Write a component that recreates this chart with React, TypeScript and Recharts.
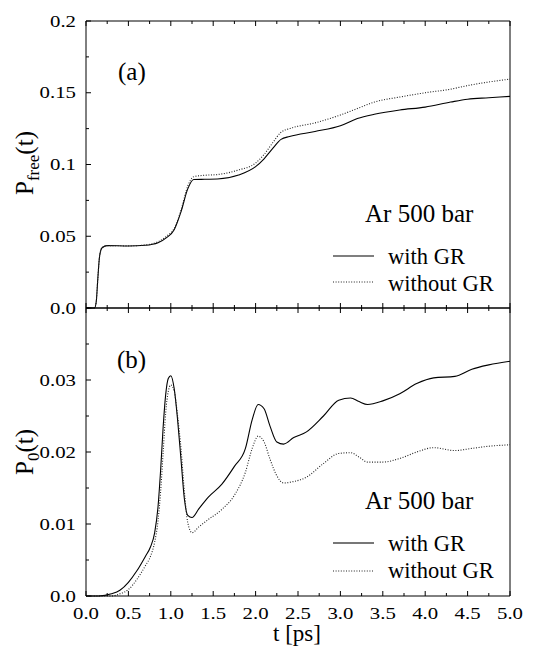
import React from 'react';
import { LineChart, Line, XAxis, YAxis } from 'recharts';

const FONT = 'Liberation Serif';

// (a) P_free(t)
const tFree = [0, 0.1, 0.12, 0.14, 0.16, 0.19, 0.25, 0.5, 0.7, 0.85, 0.95, 1.04, 1.12, 1.2, 1.27, 1.4, 1.55, 1.8, 2.0, 2.1, 2.2, 2.3, 2.4, 2.7, 3.0, 3.2, 3.4, 3.7, 4.0, 4.3, 4.5, 4.75, 5.0];
const freeWithGR = [0, 0, 0.004, 0.021, 0.036, 0.042, 0.0435, 0.0432, 0.0437, 0.0455, 0.049, 0.0545, 0.067, 0.083, 0.0895, 0.0897, 0.0899, 0.0927, 0.0985, 0.104, 0.111, 0.1175, 0.1195, 0.123, 0.127, 0.132, 0.135, 0.138, 0.14, 0.1435, 0.1455, 0.1465, 0.1475];
const freeWithoutGR = [0, 0, 0.004, 0.021, 0.036, 0.042, 0.0435, 0.0433, 0.0439, 0.0462, 0.05, 0.0555, 0.068, 0.085, 0.0915, 0.0925, 0.093, 0.0962, 0.101, 0.107, 0.115, 0.1225, 0.125, 0.129, 0.1345, 0.139, 0.1435, 0.147, 0.15, 0.1525, 0.155, 0.1575, 0.1595];

// (b) P_0(t)
const tZero = [0, 0.15, 0.3, 0.4, 0.5, 0.6, 0.7, 0.76, 0.81, 0.85, 0.88, 0.91, 0.94, 0.97, 1.0, 1.04, 1.08, 1.12, 1.16, 1.2, 1.25, 1.33, 1.44, 1.6, 1.75, 1.88, 1.96, 2.03, 2.1, 2.17, 2.25, 2.33, 2.45, 2.6, 2.8, 2.98, 3.12, 3.22, 3.32, 3.5, 3.7, 3.9, 4.1, 4.35, 4.55, 4.75, 5.0];
const zeroWithGR = [0, 0, 0.0003, 0.0008, 0.0019, 0.0035, 0.0055, 0.0068, 0.0088, 0.0125, 0.0175, 0.0235, 0.028, 0.0302, 0.0306, 0.0288, 0.0245, 0.019, 0.0135, 0.0112, 0.0109, 0.0121, 0.0137, 0.0155, 0.018, 0.0205, 0.0245, 0.0266, 0.026, 0.0236, 0.0214, 0.0211, 0.022, 0.0228, 0.025, 0.0272, 0.0275, 0.027, 0.0266, 0.0271, 0.0281, 0.0295, 0.0303, 0.0305, 0.0315, 0.0321, 0.0326];
const zeroWithoutGR = [0, 0, 0, 0.0003, 0.0009, 0.0023, 0.0042, 0.0055, 0.0075, 0.0105, 0.0145, 0.02, 0.0255, 0.0284, 0.0293, 0.0285, 0.025, 0.0205, 0.0145, 0.0102, 0.0088, 0.0096, 0.0106, 0.012, 0.014, 0.0172, 0.0205, 0.0222, 0.0214, 0.019, 0.0167, 0.0157, 0.0159, 0.0165, 0.0184, 0.0198, 0.0199, 0.0193, 0.0186, 0.0186, 0.0191, 0.02, 0.0206, 0.0202, 0.0205, 0.0208, 0.021];

// ticks
const tTicks = [0, 0.25, 0.5, 0.75, 1, 1.25, 1.5, 1.75, 2, 2.25, 2.5, 2.75, 3, 3.25, 3.5, 3.75, 4, 4.25, 4.5, 4.75, 5];
const tLabels = [0, 0.5, 1, 1.5, 2, 2.5, 3, 3.5, 4, 4.5, 5];
const freeTicks = [0, 0.025, 0.05, 0.075, 0.1, 0.125, 0.15, 0.175, 0.2];
const freeLabels = [0, 0.05, 0.1, 0.15, 0.2];
const zeroTicks = [0, 0.005, 0.01, 0.015, 0.02, 0.025, 0.03, 0.035, 0.04];
const zeroLabels = [0, 0.01, 0.02, 0.03];

const freeData = tFree.map((t, i) => ({ t, withGR: freeWithGR[i], withoutGR: freeWithoutGR[i] }));
const zeroData = tZero.map((t, i) => ({ t, withGR: zeroWithGR[i], withoutGR: zeroWithoutGR[i] }));

const fmtT = (v: number) => v.toFixed(1);
const fmtY = (v: number) => (v === 0 ? '0.0' : String(v));

// inward ticks, labels drawn slightly stretched like the original typesetting
function makeTick(side: string, labels: number[], showLabels: boolean, fmt: (v: number) => string) {
  return (props: any) => {
    const { x, y, payload } = props;
    const v = payload.value;
    const major = labels.some((l) => Math.abs(l - v) < 1e-9);
    const len = major ? 5 : 3;
    let line = null;
    if (side === 'bottom') line = <line x1={x} y1={y} x2={x} y2={y - len} stroke="#000" />;
    if (side === 'top') line = <line x1={x} y1={y} x2={x} y2={y + len} stroke="#000" />;
    if (side === 'left') line = <line x1={x} y1={y} x2={x + len} y2={y} stroke="#000" />;
    if (side === 'right') line = <line x1={x} y1={y} x2={x - len} y2={y} stroke="#000" />;
    let label = null;
    if (showLabels && major) {
      const tx = side === 'left' ? x - 10 : x;
      const ty = side === 'left' ? y + 5.5 : y + 23;
      label = (
        <g transform={`translate(${tx},${ty}) scale(1.3,1)`}>
          <text textAnchor={side === 'left' ? 'end' : 'middle'} style={{ fontFamily: FONT, fontSize: 16 }} fill="#000">
            {fmt(v)}
          </text>
        </g>
      );
    }
    return (
      <g>
        {line}
        {label}
      </g>
    );
  };
}

function Panel({ data, height, margin, yTicks, yLabels, yMax, xLabels }: any) {
  return (
    <LineChart width={535} height={height} data={data} margin={margin}>
      <XAxis xAxisId="b" dataKey="t" type="number" domain={[0, 5]} ticks={tTicks} interval={0}
        height={1} tickSize={0} tickMargin={0} tickLine={false} axisLine={{ stroke: '#000' }}
        tick={makeTick('bottom', tLabels, xLabels, fmtT)} />
      <XAxis xAxisId="t" orientation="top" dataKey="t" type="number" domain={[0, 5]} ticks={tTicks} interval={0}
        height={1} tickSize={0} tickMargin={0} tickLine={false} axisLine={{ stroke: '#000' }}
        tick={makeTick('top', tLabels, false, fmtT)} />
      <YAxis yAxisId="l" type="number" domain={[0, yMax]} ticks={yTicks} interval={0} width={86}
        tickSize={0} tickMargin={0} tickLine={false} axisLine={{ stroke: '#000' }}
        tick={makeTick('left', yLabels, true, fmtY)} />
      <YAxis yAxisId="r" orientation="right" type="number" domain={[0, yMax]} ticks={yTicks} interval={0} width={1}
        tickSize={0} tickMargin={0} tickLine={false} axisLine={{ stroke: '#000' }}
        tick={makeTick('right', yLabels, false, fmtY)} />
      <Line xAxisId="b" yAxisId="l" type="monotone" dataKey="withGR" stroke="#000" strokeWidth={1.1}
        dot={false} isAnimationActive={false} />
      <Line xAxisId="b" yAxisId="l" type="monotone" dataKey="withoutGR" stroke="#222" strokeWidth={1.1}
        strokeDasharray="1 1.6" dot={false} isAnimationActive={false} />
    </LineChart>
  );
}

export default function App() {
  const txt = { fill: '#000' };
  const f = (size: number) => ({ fontFamily: FONT, fontSize: size });
  return (
    <div style={{ position: 'absolute', left: 0, top: 0, width: 535, height: 646, background: '#fff' }}>
      <div style={{ position: 'absolute', left: 0, top: 0 }}>
        <Panel data={freeData} height={322} margin={{ top: 20, right: 24, bottom: 13, left: 0 }}
          yTicks={freeTicks} yLabels={freeLabels} yMax={0.2} xLabels={false} />
      </div>
      <div style={{ position: 'absolute', left: 0, top: 307 }}>
        <Panel data={zeroData} height={339} margin={{ top: 0, right: 24, bottom: 49, left: 0 }}
          yTicks={zeroTicks} yLabels={zeroLabels} yMax={0.04} xLabels={true} />
      </div>
      <svg width={535} height={646} style={{ position: 'absolute', left: 0, top: 0, pointerEvents: 'none' }}>
        <text x={118} y={80} style={f(25)} {...txt}>(a)</text>
        <text x={365} y={222} style={f(25)} {...txt}>Ar 500 bar</text>
        <line x1={333} y1={256} x2={374} y2={256} stroke="#000" strokeWidth={1.2} />
        <text x={388} y={264} style={f(22.5)} {...txt}>with GR</text>
        <line x1={333} y1={282} x2={374} y2={282} stroke="#222" strokeWidth={1.1} strokeDasharray="1 1.6" />
        <text x={388} y={291} style={f(22.5)} {...txt}>without GR</text>

        <text x={117} y={368} style={f(25)} {...txt}>(b)</text>
        <text x={365} y={509} style={f(25)} {...txt}>Ar 500 bar</text>
        <line x1={333} y1={543} x2={374} y2={543} stroke="#777" strokeWidth={2} />
        <text x={388} y={551} style={f(22.5)} {...txt}>with GR</text>
        <line x1={333} y1={571} x2={374} y2={571} stroke="#222" strokeWidth={1.1} strokeDasharray="1 1.6" />
        <text x={388} y={578} style={f(22.5)} {...txt}>without GR</text>

        <text transform="translate(33,163) rotate(-90)" textAnchor="middle" style={f(25)} {...txt}>
          P<tspan style={f(17)} dy={6}>free</tspan><tspan dy={-6}>(t)</tspan>
        </text>
        <text transform="translate(33,452) rotate(-90)" textAnchor="middle" style={f(25)} {...txt}>
          P<tspan style={f(17)} dy={6}>0</tspan><tspan dy={-6}>(t)</tspan>
        </text>
        <text x={297} y={641} textAnchor="middle" style={f(23)} {...txt}>t [ps]</text>
      </svg>
    </div>
  );
}
